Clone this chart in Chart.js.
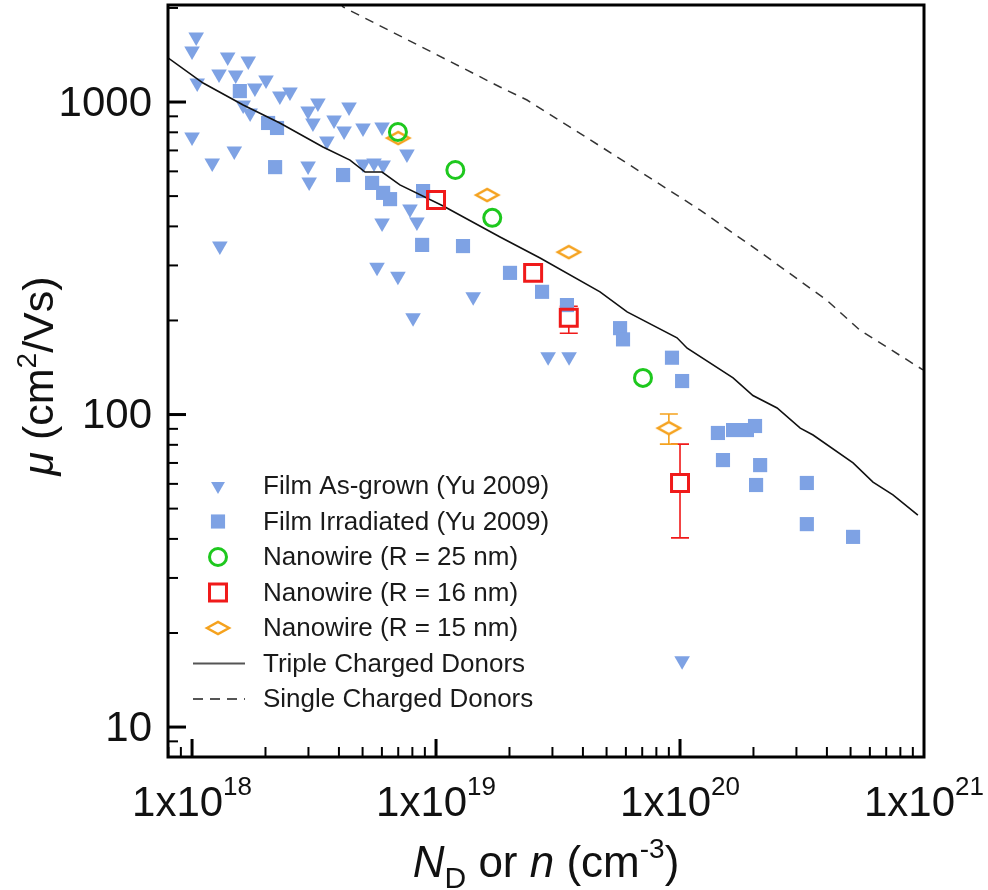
<!DOCTYPE html>
<html><head><meta charset="utf-8">
<script src="https://cdn.jsdelivr.net/npm/chart.js@4.4.0/dist/chart.umd.min.js"></script>
<style>html,body{margin:0;padding:0;background:#fff;}#wrap{width:988px;height:890px;}</style>
</head><body><div id="wrap"><canvas id="c" width="988" height="890"></canvas></div>
<script>
// ---------- data ----------
const asGrownX = [1.04e18,1.00e18,1.40e18,1.70e18,1.29e18,1.51e18,1.05e18,2.01e18,1.81e18,2.52e18,2.29e18,1.62e18,1.73e18,3.28e18,2.99e18,3.13e18,4.40e18,3.82e18,4.20e18,5.02e18,6.01e18,1.00e18,1.49e18,1.21e18,3.57e18,7.60e18,2.99e18,3.02e18,5.02e18,5.57e18,6.07e18,7.82e18,8.35e18,6.01e18,1.30e18,5.73e18,6.98e18,1.42e19,8.05e18,2.88e19,3.51e19,1.02e20];
const asGrownY = [1614,1456,1393,1353,1229,1220,1150,1176,1109,1076,1045,978,922,993,936,857,964,876,808,826,832,773,697,638,750,682,624,555,633,638,629,455,413,410,346,296,277,238,204,153,153,16.3];
const irradX = [1.57e18,2.05e18,2.23e18,2.19e18,4.16e18,5.47e18,6.07e18,6.48e18,8.85e18,8.77e18,1.29e19,2.01e19,2.72e19,3.44e19,5.68e19,5.84e19,9.27e19,1.02e20,1.43e20,1.65e20,1.88e20,2.03e20,1.50e20,2.13e20,2.05e20,3.31e20,3.31e20,5.12e20];
const irradY = [1084,857,826,619,584,551,512,489,519,349,346,284,247,224,189,174,152,128,87.3,89.2,89.2,91.9,71.5,68.9,59.5,60.4,44.6,40.6];
const nw25X = [6.98e18,1.20e19,1.70e19,7.05e19];
const nw25Y = [802,606,426,131];
const nw16X = [1.0e19,2.5e19,3.5e19,1.0e20];
const nw16Y = [486,284,204,60.4];
const nw16ErrLow = [null,null,182,40.3];
const nw16ErrHigh = [null,null,222,80.4];
const nw15X = [7.0e18,1.62e19,3.5e19,9.0e19];
const nw15Y = [767,504,331,90.5];
const nw15ErrLow = [null,null,null,80.4];
const nw15ErrHigh = [null,null,null,100.4];
const tripleX = [7.97e17,1.11e18,1.62e18,2.29e18,3.44e18,4.44e18,5.12e18,6.01e18,7.11e18,1.07e19,1.83e19,2.67e19,4.70e19,6.07e19,9.72e19,1.07e20,1.65e20,1.99e20,2.50e20,3.11e20,3.51e20,5.12e20,6.18e20,7.46e20,9.44e20];
const tripleY = [1385,1150,978,857,718,652,597,597,543,465,370,317,247,213,176,163,131,115,105,90.5,86,70,60.8,55.3,47.7];
const singleX = [4.0e18,4.16e18,8.59e18,1.83e19,2.36e19,4.70e19,1.21e20,2.13e20,4.0e20,5.47e20,9.9e20];
const singleY = [2100,2014,1510,1117,1015,723,451,331,232,186,139];
const seriesNames = ['Film As-grown (Yu 2009)','Film Irradiated (Yu 2009)','Nanowire (R = 25 nm)','Nanowire (R = 16 nm)','Nanowire (R = 15 nm)','Triple Charged Donors','Single Charged Donors'];
const xTickValues = [1e18,1e19,1e20,1e21];
const xTickLabels = ['1x10^18','1x10^19','1x10^20','1x10^21'];
const yTickValues = [10,100,1000];
const yTickLabels = ['10','100','1000'];
const xMin = 7.97e17, xMax = 1e21, yMin = 8.02, yMax = 2044;

// ---------- helpers ----------
const FONT = '"Liberation Sans", Arial, Helvetica, sans-serif';
const BLUE = 'rgb(126,162,228)', GREEN = '#1ec81e', RED = '#f01a1a', ORANGE = '#f5a21e';
function pts(xs, ys){ return xs.map((x,i)=>({x:x, y:ys[i]})); }
function diamondCanvas(w,h,lw,color){
  const c=document.createElement('canvas'); c.width=w+lw*4; c.height=h+lw*4;
  const g=c.getContext('2d'); g.strokeStyle=color; g.lineWidth=lw; g.lineJoin='miter';
  const cx=c.width/2, cy=c.height/2;
  g.beginPath(); g.moveTo(cx-w/2,cy); g.lineTo(cx,cy-h/2); g.lineTo(cx+w/2,cy); g.lineTo(cx,cy+h/2); g.closePath(); g.stroke();
  return c;
}
const diamond = diamondCanvas(22,12,2.5,ORANGE);

const datasets = [
  {label:seriesNames[0], data:pts(asGrownX,asGrownY), pointStyle:'triangle', rotation:180, pointRadius:9, backgroundColor:BLUE, borderColor:BLUE, borderWidth:0, order:3},
  {label:seriesNames[1], data:pts(irradX,irradY), pointStyle:'rect', pointRadius:10, backgroundColor:BLUE, borderColor:BLUE, borderWidth:0, order:3},
  {label:seriesNames[2], data:pts(nw25X,nw25Y), pointStyle:'circle', pointRadius:8.5, backgroundColor:'rgba(0,0,0,0)', borderColor:GREEN, borderWidth:3, order:0},
  {label:seriesNames[3], data:pts(nw16X,nw16Y), pointStyle:'rect', pointRadius:12, backgroundColor:'rgba(0,0,0,0)', borderColor:RED, borderWidth:3, order:0, errLow:nw16ErrLow, errHigh:nw16ErrHigh, gap:9},
  {label:seriesNames[4], data:pts(nw15X,nw15Y), pointStyle:diamond, pointRadius:8, backgroundColor:'rgba(0,0,0,0)', borderColor:ORANGE, borderWidth:0, order:0, errLow:nw15ErrLow, errHigh:nw15ErrHigh, gap:7},
  {label:seriesNames[5], data:pts(tripleX,tripleY), showLine:true, pointRadius:0, borderColor:'#111', borderWidth:1.6, tension:0, order:1},
  {label:seriesNames[6], data:pts(singleX,singleY), showLine:true, pointRadius:0, borderColor:'#333', borderWidth:1.5, borderDash:[9,7], tension:0, order:1}
];

function drawSeq(ctx, parts, x, y){
  let w = 0;
  parts.forEach(p=>{ ctx.font = p[2]+' '+p[1]+'px '+FONT; w += ctx.measureText(p[0]).width; });
  let cx = x - w/2;
  parts.forEach(p=>{ ctx.font = p[2]+' '+p[1]+'px '+FONT; ctx.fillText(p[0], cx, y + p[3]); cx += ctx.measureText(p[0]).width; });
}

const decor = {
  id:'decor',
  beforeDatasetsDraw(chart){
    const ctx = chart.ctx, xs = chart.scales.x, ys = chart.scales.y;
    chart.data.datasets.forEach(ds=>{
      if(!ds.errLow) return;
      ctx.save(); ctx.strokeStyle = ds.borderColor; ctx.lineWidth = 1.6;
      ds.data.forEach((p,i)=>{
        if(ds.errLow[i]==null) return;
        const px = xs.getPixelForValue(p.x), py = ys.getPixelForValue(p.y);
        const top = ys.getPixelForValue(ds.errHigh[i]), bot = ys.getPixelForValue(ds.errLow[i]);
        ctx.beginPath();
        ctx.moveTo(px, top); ctx.lineTo(px, py - ds.gap);
        ctx.moveTo(px, py + ds.gap); ctx.lineTo(px, bot);
        ctx.moveTo(px-9, top); ctx.lineTo(px+9, top);
        ctx.moveTo(px-9, bot); ctx.lineTo(px+9, bot);
        ctx.stroke();
      });
      ctx.restore();
    });
  },
  afterDraw(chart){
    const ctx = chart.ctx, a = chart.chartArea, xs = chart.scales.x, ys = chart.scales.y;
    ctx.save();
    ctx.strokeStyle = '#000';
    for(let e=17;e<=21;e++){
      for(let m=1;m<=9;m++){
        const v = m*Math.pow(10,e);
        if(v < xMin*1.001 || v > xMax*0.999) continue;
        const px = xs.getPixelForValue(v);
        ctx.lineWidth = m===1?3:2;
        ctx.beginPath(); ctx.moveTo(px, a.bottom); ctx.lineTo(px, a.bottom - (m===1?18:10)); ctx.stroke();
      }
    }
    for(let e=0;e<=3;e++){
      for(let m=1;m<=9;m++){
        const v = m*Math.pow(10,e);
        if(v < yMin*1.001 || v > yMax*0.999) continue;
        const py = ys.getPixelForValue(v);
        ctx.lineWidth = m===1?3:2;
        ctx.beginPath(); ctx.moveTo(a.left, py); ctx.lineTo(a.left + (m===1?18:10), py); ctx.stroke();
      }
    }
    ctx.lineWidth = 3;
    ctx.strokeRect(a.left, a.top, a.right-a.left, a.bottom-a.top);
    ctx.fillStyle = '#111';
    ctx.textAlign = 'right'; ctx.textBaseline = 'middle';
    ctx.font = '42px '+FONT;
    yTickValues.forEach((v,i)=>{ ctx.fillText(yTickLabels[i], a.left-16, ys.getPixelForValue(v)+2); });
    ctx.textAlign = 'left'; ctx.textBaseline = 'alphabetic';
    xTickValues.forEach((v,i)=>{
      const parts = xTickLabels[i].split('^');
      drawSeq(ctx, [[parts[0],42,'',0],[parts[1],26,'',-21]], xs.getPixelForValue(v), 816);
    });
    drawSeq(ctx, [['N',44,'italic',0],['D',30,'',11],[' or ',44,'',0],['n',44,'italic',0],[' (cm',44,'',0],['-3',28,'',-19],[')',44,'',0]], (a.left+a.right)/2, 877);
    ctx.save(); ctx.translate(53, 376); ctx.rotate(-Math.PI/2);
    drawSeq(ctx, [['\u03bc',43,'italic',0],[' (cm',43,'',0],['2',28,'',-17],['/Vs)',43,'',0]], 0, 0);
    ctx.restore();
    const rows = [486, 521.5, 557, 592.5, 628, 663.5, 699];
    chart.data.datasets.forEach((ds,i)=>{
      const y = rows[i], x = 218;
      if(ds.showLine){
        ctx.save(); ctx.strokeStyle = '#555'; ctx.lineWidth = 2.2; ctx.setLineDash(ds.borderDash? [10,7] : []);
        ctx.beginPath(); ctx.moveTo(193, y); ctx.lineTo(245, y); ctx.stroke(); ctx.restore();
      } else {
        ctx.save(); ctx.fillStyle = ds.backgroundColor; ctx.strokeStyle = ds.borderColor;
        Chart.helpers.drawPoint(ctx, {pointStyle:ds.pointStyle, rotation:ds.rotation||0, radius:(i===0?8:ds.pointRadius), borderWidth:ds.borderWidth}, x, y);
        ctx.restore();
      }
      ctx.fillStyle = '#1a1a1a'; ctx.font = '26px '+FONT; ctx.textAlign='left'; ctx.textBaseline='middle';
      ctx.fillText(ds.label, 263, y+1);
    });
    ctx.restore();
  }
};

new Chart(document.getElementById('c'), {
  type:'scatter',
  data:{datasets:datasets},
  options:{
    responsive:false, animation:false, devicePixelRatio:1,
    layout:{autoPadding:false, padding:{left:168,right:64,top:5,bottom:133}},
    plugins:{legend:{display:false}, tooltip:{enabled:false}},
    scales:{
      x:{type:'logarithmic', min:xMin, max:xMax, display:false},
      y:{type:'logarithmic', min:yMin, max:yMax, display:false}
    }
  },
  plugins:[decor]
});
</script></body></html>
